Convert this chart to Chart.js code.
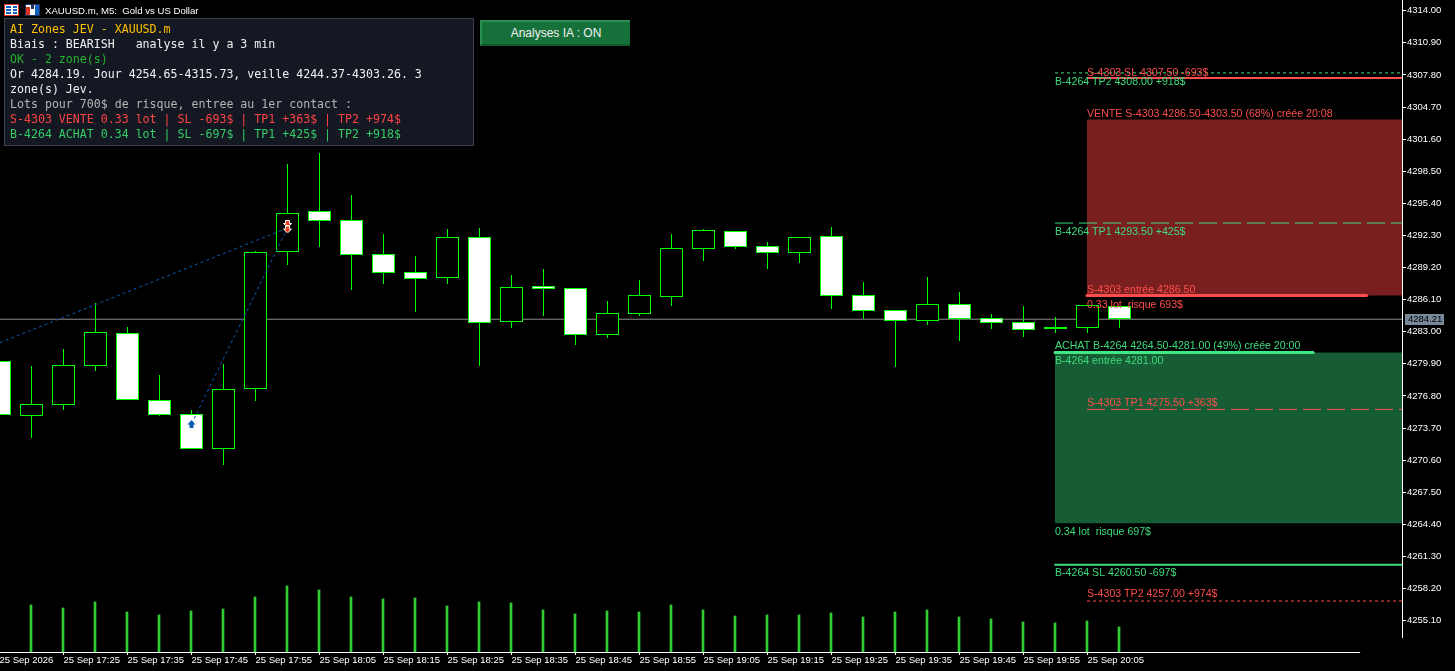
<!DOCTYPE html>
<html>
<head>
<meta charset="utf-8">
<title>XAUUSD.m, M5</title>
<script src="https://cdn.jsdelivr.net/npm/chart.js@4/dist/chart.umd.min.js"></script>
<style>
html, body { margin: 0; padding: 0; background: #000; overflow: hidden; }
#wrap { position: relative; width: 1455px; height: 671px; }
#chartArea { position: absolute; left: 0; top: 0; }
#caption { position: absolute; left: 45px; top: 4px; color: #fff; font: 9.6px "Liberation Sans", sans-serif; line-height: 13px; white-space: pre; }
.icon { position: absolute; top: 4px; }
#panel { position: absolute; left: 4px; top: 18px; width: 468px; height: 126px; background: #141822; border: 1px solid #3c4050;
         font: 11.6px "DejaVu Sans Mono", monospace; }
#panel div { position: absolute; left: 5px; white-space: pre; line-height: 15px; }
#iaButton { position: absolute; left: 480px; top: 20px; width: 148px; height: 22px; background: #16703a; color: #f2f2f2;
            border-top: 2px solid #2a8f4f; border-left: 2px solid #2a8f4f; border-bottom: 2px solid #0d5a2b; border-right: 0;
            font: 12px "Liberation Sans", sans-serif; line-height: 22px; text-align: center; }
</style>
</head>
<body>
<div id="wrap">
  <canvas id="chartArea" width="1455" height="671"></canvas>
  <svg class="icon" style="left:4px" width="16" height="12"><rect x="0.5" y="0.5" width="14" height="11" fill="#fff" stroke="#e03020"/><path d="M2 3h5M9 3h4M2 6h5M9 6h4M2 9h5M9 9h4" stroke="#1060c0" stroke-width="2"/></svg>
  <svg class="icon" style="left:25px" width="16" height="12"><rect x="0.5" y="0.5" width="14" height="11" fill="#fff" stroke="#203060"/><rect x="1" y="3" width="4" height="8" fill="#e03020"/><rect x="6" y="1" width="3" height="4" fill="#203060"/><rect x="10" y="1" width="4" height="10" fill="#1060c0"/></svg>
  <div id="caption">XAUUSD.m, M5:  Gold vs US Dollar</div>
  <div id="panel">
    <div style="top:3px;color:#ffc000">AI Zones JEV - XAUUSD.m</div>
    <div style="top:18px;color:#f0f0f0">Biais : BEARISH   analyse il y a 3 min</div>
    <div style="top:33px;color:#22b52e">OK - 2 zone(s)</div>
    <div style="top:48px;color:#f0f0f0">Or 4284.19. Jour 4254.65-4315.73, veille 4244.37-4303.26. 3</div>
    <div style="top:63px;color:#f0f0f0">zone(s) Jev.</div>
    <div style="top:78px;color:#b4b4b4">Lots pour 700$ de risque, entree au 1er contact :</div>
    <div style="top:93px;color:#ff4444">S-4303 VENTE 0.33 lot | SL -693$ | TP1 +363$ | TP2 +974$</div>
    <div style="top:108px;color:#33cc66">B-4264 ACHAT 0.34 lot | SL -697$ | TP1 +425$ | TP2 +918$</div>
  </div>
  <div id="iaButton">Analyses IA : ON</div>
</div>
<script>
'use strict'
// candles, oldest first. the first one is cut by the left edge of the window
const opens  = [4280.15,4274.90,4275.96,4279.72,4282.85,4276.38,4275.03,4271.65,4277.45,4290.68,4294.63,4293.77,4290.48,4288.74,4288.22,4292.12,4283.97,4287.39,4287.20,4282.72,4284.75,4286.39,4291.02,4292.70,4291.25,4290.64,4292.22,4286.52,4285.07,4284.07,4285.65,4284.30,4283.92,4283.44,4283.34,4285.52];
const highs  = [4281.50,4279.69,4281.31,4285.75,4283.46,4278.83,4275.45,4279.89,4290.77,4299.20,4300.24,4296.21,4292.44,4290.32,4292.93,4293.02,4288.48,4289.06,4287.23,4285.97,4288.00,4292.44,4292.93,4292.70,4291.67,4292.12,4293.12,4287.81,4285.10,4288.29,4286.84,4284.72,4285.49,4284.43,4285.56,4285.52];
const lows   = [4274.50,4272.77,4275.45,4279.24,4276.44,4274.90,4271.65,4270.13,4276.32,4289.45,4291.19,4287.03,4287.61,4284.91,4287.61,4279.70,4283.37,4284.52,4281.72,4282.40,4284.52,4285.49,4289.84,4290.99,4289.06,4289.64,4285.20,4284.23,4279.60,4283.65,4282.11,4283.27,4282.50,4282.85,4282.91,4283.39];
const closes = [4274.94,4276.00,4279.76,4282.95,4276.44,4274.99,4271.65,4277.45,4290.68,4294.44,4293.73,4290.44,4288.71,4288.13,4292.12,4283.88,4287.30,4287.16,4282.72,4284.78,4286.52,4291.06,4292.80,4291.22,4290.64,4292.12,4286.48,4285.04,4284.07,4285.65,4284.21,4283.88,4283.20,4283.24,4285.56,4284.21];
const volumes = [0,47,44,50,40,37,41,43,55,66,62,55,53,54,46,50,49,42,38,41,40,47,42,36,37,37,39,35,40,42,35,33,30,29,31,25];

const xTickBars = [0,2,4,6,8,10,12,14,16,18,20,22,24,26,28,30,32,34];
const xTickLabels = ['25 Sep 2026','25 Sep 17:25','25 Sep 17:35','25 Sep 17:45','25 Sep 17:55','25 Sep 18:05','25 Sep 18:15','25 Sep 18:25','25 Sep 18:35','25 Sep 18:45','25 Sep 18:55','25 Sep 19:05','25 Sep 19:15','25 Sep 19:25','25 Sep 19:35','25 Sep 19:45','25 Sep 19:55','25 Sep 20:05'];
const yTicks = [4314.00,4310.90,4307.80,4304.70,4301.60,4298.50,4295.40,4292.30,4289.20,4286.10,4283.00,4279.90,4276.80,4273.70,4270.60,4267.50,4264.40,4261.30,4258.20,4255.10];
const lastPrice = 4284.21;

// the two AI zones and their levels
const sellZone = [4286.50, 4303.50];
const buyZone  = [4264.50, 4281.00];
const sellSL = 4307.50, sellTP1 = 4275.50, sellTP2 = 4257.00;
const buySL = 4260.50, buyTP1 = 4293.50, buyTP2 = 4308.00;

// trade arrows and the dotted lines joining them
const buyArrowBar = 6, buyArrowPrice = 4274.09;
const sellArrowBar = 9, sellArrowPrices = [4293.41, 4292.88];
const oldTradeStart = 4281.95, tradeEnd = 4293.02;

const sellLabels = ['S-4303 SL 4307.50 -693$','VENTE S-4303 4286.50-4303.50 (68%) créée 20:08','S-4303 entrée 4286.50','0.33 lot  risque 693$','S-4303 TP1 4275.50 +363$','S-4303 TP2 4257.00 +974$'];
const sellLabelPrices = [4308.09,4304.13,4287.13,4285.68,4276.22,4257.77];
const buyLabels = ['B-4264 TP2 4308.00 +918$','B-4264 TP1 4293.50 +425$','ACHAT B-4264 4264.50-4281.00 (49%) créée 20:00','B-4264 entrée 4281.00','0.34 lot  risque 697$','B-4264 SL 4260.50 -697$'];
const buyLabelPrices = [4307.22,4292.73,4281.72,4280.27,4263.76,4259.80];

const GREEN = '#00ff00';
const VOL_GREEN = '#32cd32';
const RED = '#ff4d4d';
const MINT = '#3ddc7c';
const AXIS_FONT = '"Liberation Sans", sans-serif';

// window edges in bar units, one bar is 32px wide
const X_MIN = 1 / 64;
const X_MAX = X_MIN + 1402 / 32;
const Y_MAX = 4315.04;
const Y_MIN = Y_MAX - 652 / 10.355;
const BUY_LEFT = 33 - 1 / 64;
const SELL_LEFT = 34 - 1 / 64;

function makeArrow(fill, outline) {
    let c = document.createElement('canvas');
    c.width = 9;
    c.height = 8;
    let g = c.getContext('2d');
    g.beginPath();
    g.moveTo(2.5, 0.5); g.lineTo(6.5, 0.5); g.lineTo(6.5, 3.5); g.lineTo(8.5, 3.5);
    g.lineTo(4.5, 7.5); g.lineTo(0.5, 3.5); g.lineTo(2.5, 3.5);
    g.closePath();
    g.fillStyle = fill;
    g.fill();
    g.strokeStyle = outline;
    g.stroke();
    return c;
}

function makeUpArrow(fill) {
    let c = document.createElement('canvas');
    c.width = 9;
    c.height = 8;
    let g = c.getContext('2d');
    g.fillStyle = fill;
    g.beginPath();
    g.moveTo(4.5, 0); g.lineTo(8.5, 4.5); g.lineTo(6.5, 4.5); g.lineTo(6.5, 8);
    g.lineTo(2.5, 8); g.lineTo(2.5, 4.5); g.lineTo(0.5, 4.5);
    g.closePath();
    g.fill();
    return c;
}

function flatLine(label, from, to, price, color, width, dash, order, cap) {
    return {
        type: 'line', label: label, order: order,
        data: [{x: from, y: price}, {x: to, y: price}],
        borderColor: color, borderWidth: width, borderDash: dash,
        borderCapStyle: cap || 'butt', pointRadius: 0
    };
}

function zone(label, from, range, color, order) {
    return {
        type: 'line', label: label, order: order,
        data: [{x: from, y: range[1]}, {x: X_MAX, y: range[1]}],
        borderWidth: 0, pointRadius: 0,
        backgroundColor: color, fill: {value: range[0]}
    };
}

let bars = opens.map((o, i) => i);

let datasets = [
    zone('sell zone', SELL_LEFT, sellZone, '#7a1f1f', 60),
    zone('buy zone', BUY_LEFT, buyZone, '#165c35', 60),
    flatLine('price', X_MIN, X_MAX, lastPrice, '#8c8c8c', 1, [], 55),
    {
        type: 'bar', label: 'volume', order: 50, yAxisID: 'v',
        data: volumes.map((v, i) => ({x: i - 1 / 64, y: v})),
        backgroundColor: VOL_GREEN, barThickness: 2, grouped: false
    },
    {
        type: 'bar', label: 'wicks', order: 40, yAxisID: 'c',
        data: bars.map(i => ({x: i, y: [lows[i], highs[i]]})),
        backgroundColor: GREEN, barThickness: 1, grouped: false, inflateAmount: 0
    },
    {
        type: 'bar', label: 'bodies', order: 30, yAxisID: 'c',
        data: bars.map(i => ({x: i, y: [opens[i], closes[i]]})),
        backgroundColor: bars.map(i => closes[i] < opens[i] ? '#ffffff' : '#000000'),
        borderColor: GREEN, borderWidth: 1, borderSkipped: false,
        barThickness: 23, grouped: false, inflateAmount: 0
    },
    flatLine('buy TP2', BUY_LEFT, X_MAX, buyTP2, MINT, 1, [3, 3], 20),
    flatLine('sell SL', SELL_LEFT, X_MAX, sellSL, RED, 2, [], 20),
    flatLine('buy TP1', BUY_LEFT, X_MAX, buyTP1, MINT, 1, [18, 6], 20),
    flatLine('sell TP1', SELL_LEFT, X_MAX, sellTP1, RED, 1, [18, 6], 20),
    flatLine('buy SL', BUY_LEFT - 0.02, X_MAX, buySL, MINT, 2, [], 20),
    flatLine('sell TP2', SELL_LEFT, X_MAX, sellTP2, RED, 1, [3, 3], 20),
    flatLine('sell entry', SELL_LEFT, 42.72, sellZone[0], RED, 3, [], 20, 'round'),
    flatLine('buy entry', BUY_LEFT, 41.05, buyZone[1], '#40e884', 3, [], 20, 'round'),
    {
        type: 'line', label: 'trade 1', order: 15,
        data: [{x: X_MIN, y: oldTradeStart}, {x: sellArrowBar, y: tradeEnd}],
        borderColor: '#0c5cb4', borderWidth: 1, borderDash: [3, 3], pointRadius: 0
    },
    {
        type: 'line', label: 'trade 2', order: 15,
        data: [{x: buyArrowBar, y: buyArrowPrice}, {x: sellArrowBar, y: tradeEnd}],
        borderColor: '#0c5cb4', borderWidth: 1, borderDash: [3, 3], pointRadius: 0
    },
    {
        type: 'line', label: 'buy arrow', order: 10, showLine: false,
        data: [{x: buyArrowBar, y: buyArrowPrice}],
        pointStyle: makeUpArrow('#0c5cb4'), pointRadius: 4
    },
    {
        type: 'line', label: 'sell arrows', order: 10, showLine: false,
        data: sellArrowPrices.map(p => ({x: sellArrowBar, y: p})),
        pointStyle: makeArrow('#e8401c', '#ffffff'), pointRadius: 4
    },
    // the axis lines stop short of the window corner, so they are plain lines
    {
        type: 'line', label: 'time axis', order: 5, yAxisID: 'v', clip: false,
        data: [{x: X_MIN, y: -0.5}, {x: 42.52, y: -0.5}],
        borderColor: '#ffffff', borderWidth: 1, pointRadius: 0
    },
    {
        type: 'line', label: 'price axis', order: 5, clip: false,
        data: [{x: X_MAX + 1 / 64, y: Y_MAX}, {x: X_MAX + 1 / 64, y: 4253.43}],
        borderColor: '#ffffff', borderWidth: 1, pointRadius: 0
    }
];

// zone captions and the price tag on the axis
const chartLabels = {
    id: 'chartLabels',
    afterDatasetsDraw(chart) {
        let ctx = chart.ctx;
        let xs = chart.scales.x;
        let ys = chart.scales.y;
        ctx.save();
        ctx.font = '10.6px "Liberation Sans", sans-serif';
        ctx.textBaseline = 'middle';
        ctx.textAlign = 'left';
        ctx.fillStyle = RED;
        sellLabels.forEach((t, k) => ctx.fillText(t, xs.getPixelForValue(SELL_LEFT), ys.getPixelForValue(sellLabelPrices[k]) + 1));
        ctx.fillStyle = MINT;
        buyLabels.forEach((t, k) => ctx.fillText(t, xs.getPixelForValue(BUY_LEFT), ys.getPixelForValue(buyLabelPrices[k]) + 1));
        ctx.restore();
    },
    afterDraw(chart) {
        let ctx = chart.ctx;
        let y = chart.scales.y.getPixelForValue(lastPrice);
        ctx.save();
        ctx.fillStyle = '#778899';
        ctx.fillRect(1405, Math.round(y) - 5, 39, 11);
        ctx.fillStyle = '#000000';
        ctx.font = '9.5px ' + AXIS_FONT;
        ctx.textBaseline = 'middle';
        ctx.fillText(lastPrice.toFixed(2), 1408, y + 0.5);
        ctx.restore();
    }
};

let ctx = document.getElementById('chartArea').getContext('2d');
new Chart(ctx, {
    data: {datasets: datasets},
    plugins: [chartLabels],
    options: {
        responsive: false,
        animation: false,
        layout: {padding: 0, autoPadding: false},
        plugins: {legend: {display: false}, tooltip: {enabled: false}},
        scales: {
            x: {
                type: 'linear', min: X_MIN, max: X_MAX, offset: false,
                afterBuildTicks: axis => { axis.ticks = xTickBars.map(b => ({value: b})); },
                afterFit: axis => { axis.height = 19; axis.paddingLeft = 0; axis.paddingRight = 0; },
                border: {display: false},
                grid: {offset: false, drawOnChartArea: false, drawTicks: true, tickLength: 3, tickColor: '#ffffff'},
                ticks: {
                    autoSkip: false, maxRotation: 0, minRotation: 0, align: 'start', padding: 0,
                    color: '#ffffff', font: {family: AXIS_FONT, size: 9.5},
                    callback: (value, index) => xTickLabels[index]
                }
            },
            y: {
                type: 'linear', position: 'right', min: Y_MIN, max: Y_MAX,
                afterBuildTicks: axis => { axis.ticks = yTicks.map(v => ({value: v})); },
                afterFit: axis => { axis.width = 53; axis.paddingTop = 0; axis.paddingBottom = 0; },
                border: {display: false},
                grid: {drawOnChartArea: false, drawTicks: true, tickLength: 4, tickColor: '#ffffff'},
                ticks: {
                    autoSkip: false, padding: 1, color: '#ffffff',
                    font: {family: AXIS_FONT, size: 9.5},
                    callback: value => value.toFixed(2)
                }
            },
            // same range as y, candles snap to whole pixels so their edges stay sharp
            c: {type: 'linear', display: false, min: Y_MIN, max: Y_MAX, alignToPixels: true},
            v: {type: 'linear', display: false, min: 0, max: 652}
        }
    }
});
</script>
</body>
</html>
